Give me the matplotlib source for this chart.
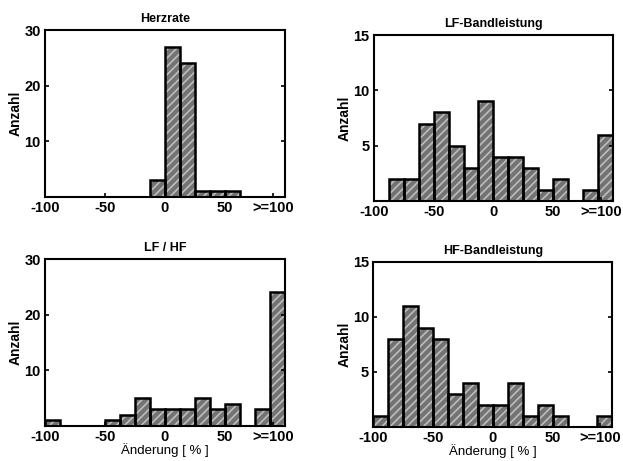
import numpy as np
import matplotlib.pyplot as plt

plt.rcParams['font.family'] = ['Liberation Sans', 'DejaVu Sans']
plt.rcParams['hatch.linewidth'] = 1.2

# Klassen: 16 Klassen zu 12.5 % von -100 bis >=100
kanten = np.arange(-100, 100.1, 12.5)
breite = 12.5

herzrate = [0, 0, 0, 0, 0, 0, 0, 3, 27, 24, 1, 1, 1, 0, 0, 0]
lf_band = [0, 2, 2, 7, 8, 5, 3, 9, 4, 4, 3, 1, 2, 0, 1, 6]
lf_hf = [1, 0, 0, 0, 1, 2, 5, 3, 3, 3, 5, 3, 4, 0, 3, 24]
hf_band = [1, 8, 11, 9, 8, 3, 4, 2, 2, 4, 1, 2, 1, 0, 0, 1]

xticks = [-100, -50, 0, 50, 90]
xlabels = ['-100', '-50', '0', '50', '>=100']

fig = plt.figure(figsize=(6.23, 4.61), dpi=100)

panels = [
    (herzrate, 'Herzrate', [0.0722, 0.5727, 0.385, 0.362], 30, [10, 20, 30], False),
    (lf_band, 'LF-Bandleistung', [0.600, 0.564, 0.384, 0.360], 15, [5, 10, 15], False),
    (lf_hf, 'LF / HF', [0.0722, 0.0760, 0.385, 0.362], 30, [10, 20, 30], True),
    (hf_band, 'HF-Bandleistung', [0.599, 0.074, 0.384, 0.358], 15, [5, 10, 15], True),
]

for werte, titel, pos, ymax, yticks, xlab in panels:
    ax = fig.add_axes(pos)
    werte = np.array(werte, dtype=float)
    m = werte > 0
    # Füllung mit Schraffur, danach schwarze Umrandung
    ax.bar(kanten[:-1][m], werte[m], width=breite, align='edge',
           color='#737373', edgecolor='#bdbdbd', hatch='////', linewidth=0)
    ax.bar(kanten[:-1][m], werte[m], width=breite, align='edge',
           fill=False, edgecolor='black', linewidth=1.8)
    ax.set_xlim(-100, 100)
    ax.set_ylim(0, ymax)
    ax.set_xticks(xticks)
    ax.set_xticklabels(xlabels, fontsize=10.5, fontweight='bold')
    ax.set_yticks(yticks)
    ax.set_yticklabels([str(t) for t in yticks], fontsize=10.5, fontweight='bold')
    ax.tick_params(direction='in', length=3, width=1.2, right=True, top=False, pad=3)
    for s in ax.spines.values():
        s.set_linewidth(1.5)
    ax.set_title(titel, fontsize=9, fontweight='bold', pad=6)
    ax.set_ylabel('Anzahl', fontsize=10, fontweight='bold', labelpad=1)
    if xlab:
        ax.set_xlabel('Änderung [ % ]', fontsize=9.5, labelpad=-1)

plt.savefig('out.png', dpi=100)
